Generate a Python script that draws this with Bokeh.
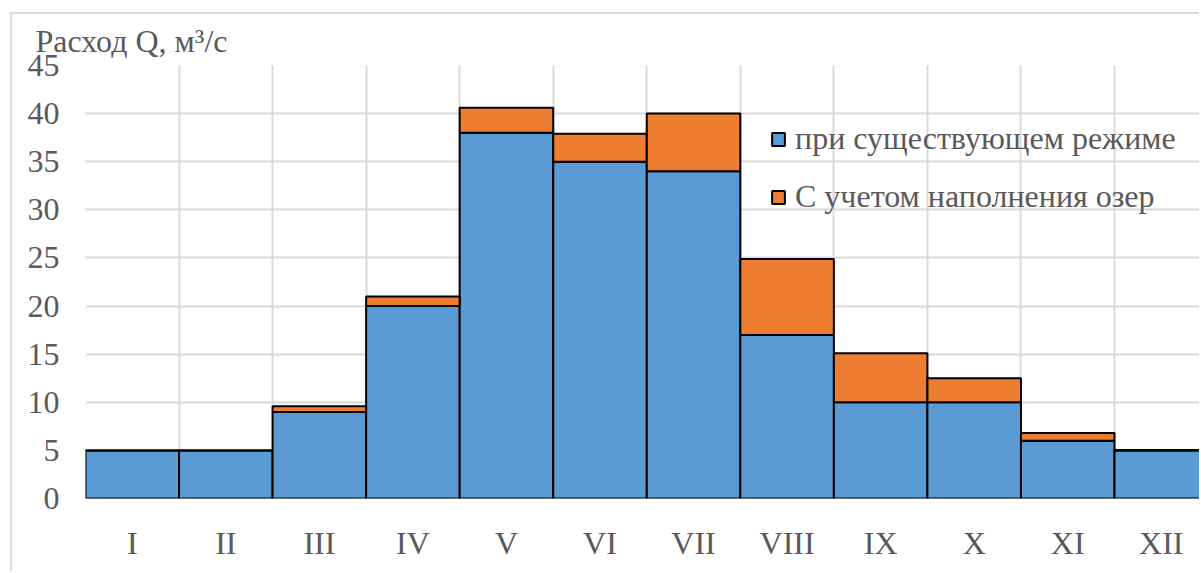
from bokeh.plotting import figure
from bokeh.models import Range1d, FixedTicker, Legend, LegendItem, ColumnDataSource
from bokeh.embed import file_html
from bokeh.resources import INLINE
import numpy as np

months = ["I", "II", "III", "IV", "V", "VI", "VII", "VIII", "IX", "X", "XI", "XII"]
existing = [5, 5, 9, 20, 38, 35, 34, 17, 10, 10, 6, 5]
lakes_extra = [0, 0, 0.6, 1, 2.6, 2.9, 6, 7.9, 5.1, 2.5, 0.8, 0.05]
y_ticks = list(range(0, 50, 5))
series_names = ["при существующем режиме", "С учетом наполнения озер"]
y_title = "Расход Q, м³/с"

FONT = "Liberation Serif"
TXT = "#595959"
GRID = "#d9d9d9"
BLUE = "#5B9BD5"
ORANGE = "#ED7D31"

x = np.arange(len(months)) + 0.5
base = np.array(existing, dtype=float)
top = base + np.array(lakes_extra, dtype=float)
src = ColumnDataSource(dict(x=x, base=base, top=top, zero=np.zeros(len(x))))

p = figure(width=1189, height=559, output_backend="svg", toolbar_location=None,
           x_range=Range1d(0, 11.93), y_range=Range1d(0, 45),
           min_border_left=73, min_border_right=0, min_border_top=51, min_border_bottom=75)
p.styles = {"margin-left": "10px", "margin-top": "12px",
            "border-left": "2px solid #d9d9d9", "border-top": "2px solid #d9d9d9"}

r1 = p.vbar(x="x", bottom="zero", top="base", width=1, source=src,
            fill_color=BLUE, line_color="black", line_width=2)
r2 = p.vbar(x="x", bottom="base", top="top", width=1, source=src,
            fill_color=ORANGE, line_color="black", line_width=2)

p.outline_line_color = None
p.background_fill_color = "white"

# title (axis caption at top-left)
p.title.text = y_title
p.title.align = "left"
p.title.vertical_align = "top"
p.title.offset = -50
p.title.standoff = 10
p.title.text_font = FONT
p.title.text_font_size = "32px"
p.title.text_font_style = "normal"
p.title.text_color = TXT

# axes
p.xaxis.ticker = FixedTicker(ticks=list(x))
p.xaxis.major_label_overrides = {float(v): m for v, m in zip(x, months)}
p.yaxis.ticker = FixedTicker(ticks=y_ticks)
for ax in (p.xaxis[0], p.yaxis[0]):
    ax.axis_line_color = None
    ax.major_tick_line_color = None
    ax.minor_tick_line_color = None
    ax.major_label_text_font = FONT
    ax.major_label_text_font_size = "32px"
    ax.major_label_text_color = TXT
p.xaxis.major_label_standoff = 20
p.yaxis.major_label_standoff = 20

p.xgrid.ticker = FixedTicker(ticks=list(range(0, 13)))
p.ygrid.ticker = FixedTicker(ticks=y_ticks)
for g in (p.xgrid[0], p.ygrid[0]):
    g.grid_line_color = GRID
    g.grid_line_width = 2

legend = Legend(items=[LegendItem(label=series_names[0], renderers=[r1]),
                       LegendItem(label=series_names[1], renderers=[r2])],
                location=(685, 283), orientation="vertical",
                background_fill_alpha=0, border_line_color=None,
                padding=0, margin=0, spacing=21,
                glyph_width=16, glyph_height=16, label_height=36,
                label_standoff=9, label_text_font=FONT, label_text_font_size="32px",
                label_text_color=TXT, label_text_baseline="middle")
p.add_layout(legend)

open("out.html", "w").write(file_html(p, INLINE))
